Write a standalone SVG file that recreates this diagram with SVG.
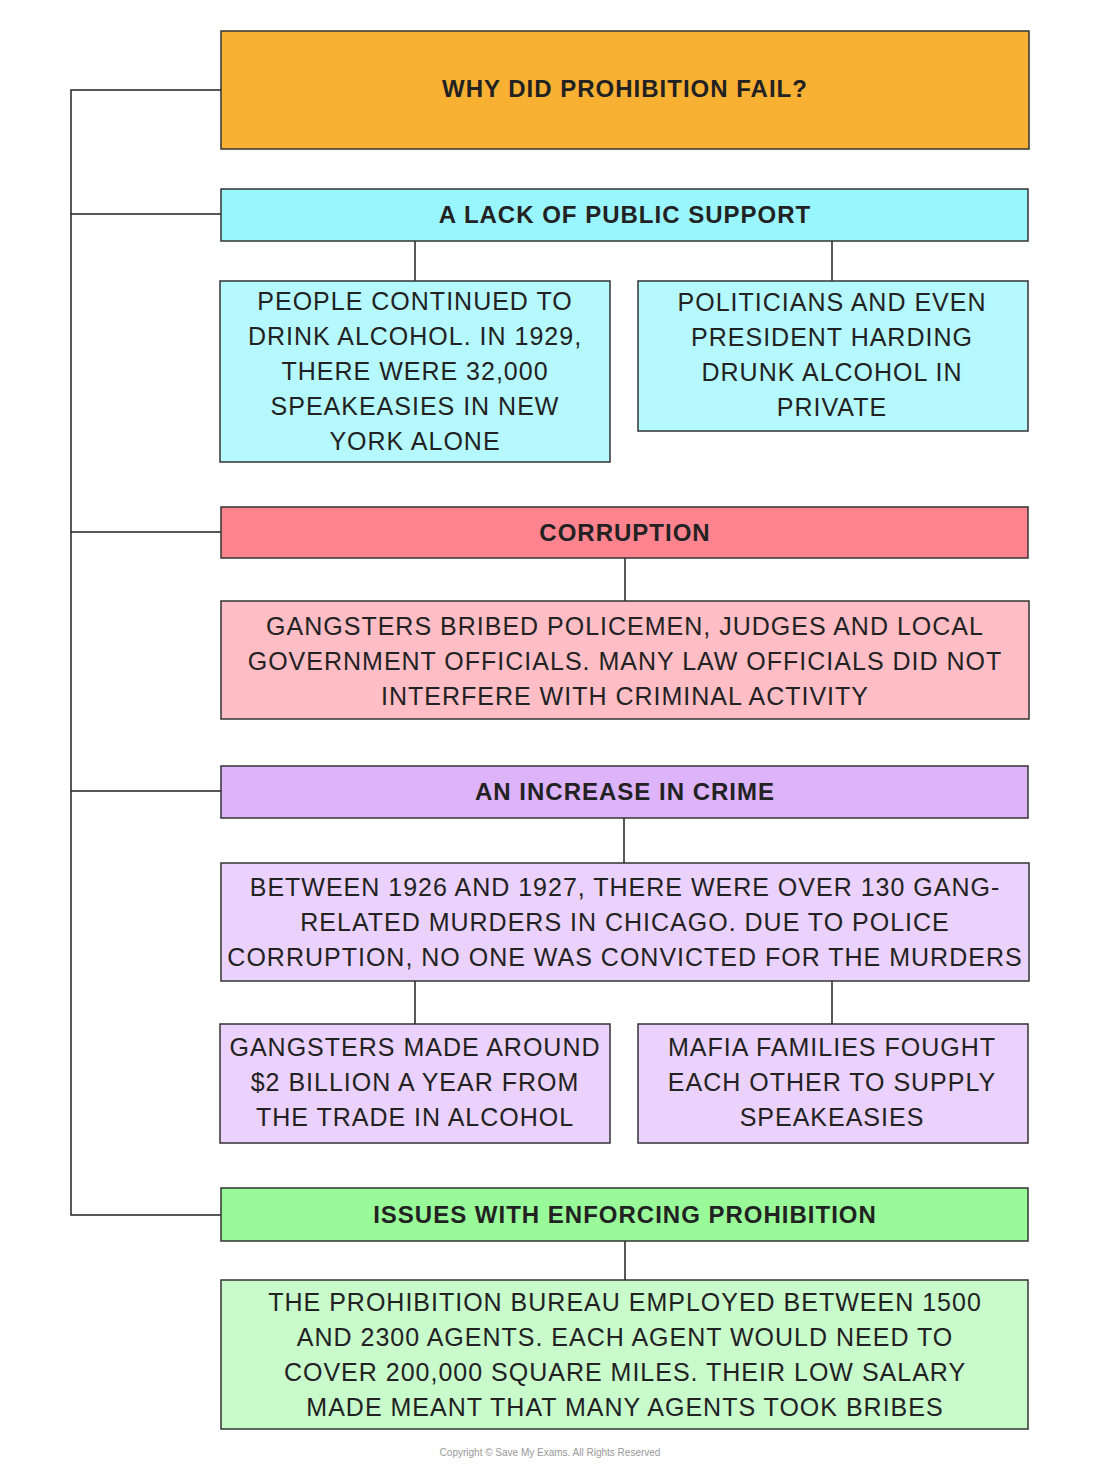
<svg xmlns="http://www.w3.org/2000/svg" width="1100" height="1477" viewBox="0 0 1100 1477">
<style>
.b{stroke:#333;stroke-width:1.5}
.c{stroke:#222;stroke-width:1.5;fill:none}
text{font-family:"Liberation Sans",Arial,sans-serif;font-size:25px;fill:#222;text-anchor:middle;letter-spacing:1px}
.h{font-weight:bold;font-size:24px}
.cp{font-size:10px;fill:#999;letter-spacing:0}
</style>
<rect width="1100" height="1477" fill="#fff"/>
<g id="connectors">
<path class="c" d="M221 90H71V1215H221M71 214H221M71 532H221M71 791H221"/>
<path class="c" d="M415 241V281M832 241V281M625 558V601M624 818V863M415 981V1024M832 981V1024M625 1241V1280"/>
</g>
<g id="title"><rect class="b" x="221" y="31" width="808" height="118" fill="#F8B133"/><text class="h" x="625" y="97">WHY DID PROHIBITION FAIL?</text></g>
<g id="support"><rect class="b" x="221" y="189" width="807" height="52" fill="#99F6FF"/><text class="h" x="625" y="223">A LACK OF PUBLIC SUPPORT</text></g>
<g id="people"><rect class="b" x="220" y="281" width="390" height="181" fill="#B5F9FF"/>
<text x="415" y="310">PEOPLE CONTINUED TO</text><text x="415" y="345">DRINK ALCOHOL. IN 1929,</text><text x="415" y="380">THERE WERE 32,000</text><text x="415" y="415">SPEAKEASIES IN NEW</text><text x="415" y="450">YORK ALONE</text></g>
<g id="politicians"><rect class="b" x="638" y="281" width="390" height="150" fill="#B5F9FF"/>
<text x="832" y="311">POLITICIANS AND EVEN</text><text x="832" y="346">PRESIDENT HARDING</text><text x="832" y="381">DRUNK ALCOHOL IN</text><text x="832" y="416">PRIVATE</text></g>
<g id="corruption"><rect class="b" x="221" y="507" width="807" height="51" fill="#FF8490"/><text class="h" x="625" y="541">CORRUPTION</text></g>
<g id="gangsters"><rect class="b" x="221" y="601" width="808" height="118" fill="#FFBDC5"/>
<text x="625" y="635">GANGSTERS BRIBED POLICEMEN, JUDGES AND LOCAL</text><text x="625" y="670">GOVERNMENT OFFICIALS. MANY LAW OFFICIALS DID NOT</text><text x="625" y="705">INTERFERE WITH CRIMINAL ACTIVITY</text></g>
<g id="crime"><rect class="b" x="221" y="766" width="807" height="52" fill="#DDB3FA"/><text class="h" x="625" y="800">AN INCREASE IN CRIME</text></g>
<g id="murders"><rect class="b" x="221" y="863" width="808" height="118" fill="#EBD2FC"/>
<text x="625" y="896">BETWEEN 1926 AND 1927, THERE WERE OVER 130 GANG-</text><text x="625" y="931">RELATED MURDERS IN CHICAGO. DUE TO POLICE</text><text x="625" y="966">CORRUPTION, NO ONE WAS CONVICTED FOR THE MURDERS</text></g>
<g id="billion"><rect class="b" x="220" y="1024" width="390" height="119" fill="#EBD2FC"/>
<text x="415" y="1056">GANGSTERS MADE AROUND</text><text x="415" y="1091">$2 BILLION A YEAR FROM</text><text x="415" y="1126">THE TRADE IN ALCOHOL</text></g>
<g id="mafia"><rect class="b" x="638" y="1024" width="390" height="119" fill="#EBD2FC"/>
<text x="832" y="1056">MAFIA FAMILIES FOUGHT</text><text x="832" y="1091">EACH OTHER TO SUPPLY</text><text x="832" y="1126">SPEAKEASIES</text></g>
<g id="enforcing"><rect class="b" x="221" y="1188" width="807" height="53" fill="#99FA99"/><text class="h" x="625" y="1223">ISSUES WITH ENFORCING PROHIBITION</text></g>
<g id="bureau"><rect class="b" x="221" y="1280" width="807" height="149" fill="#C8FACB"/>
<text x="625" y="1311">THE PROHIBITION BUREAU EMPLOYED BETWEEN 1500</text><text x="625" y="1346">AND 2300 AGENTS. EACH AGENT WOULD NEED TO</text><text x="625" y="1381">COVER 200,000 SQUARE MILES. THEIR LOW SALARY</text><text x="625" y="1416">MADE MEANT THAT MANY AGENTS TOOK BRIBES</text></g>
<text class="cp" x="550" y="1456">Copyright © Save My Exams. All Rights Reserved</text>
</svg>
